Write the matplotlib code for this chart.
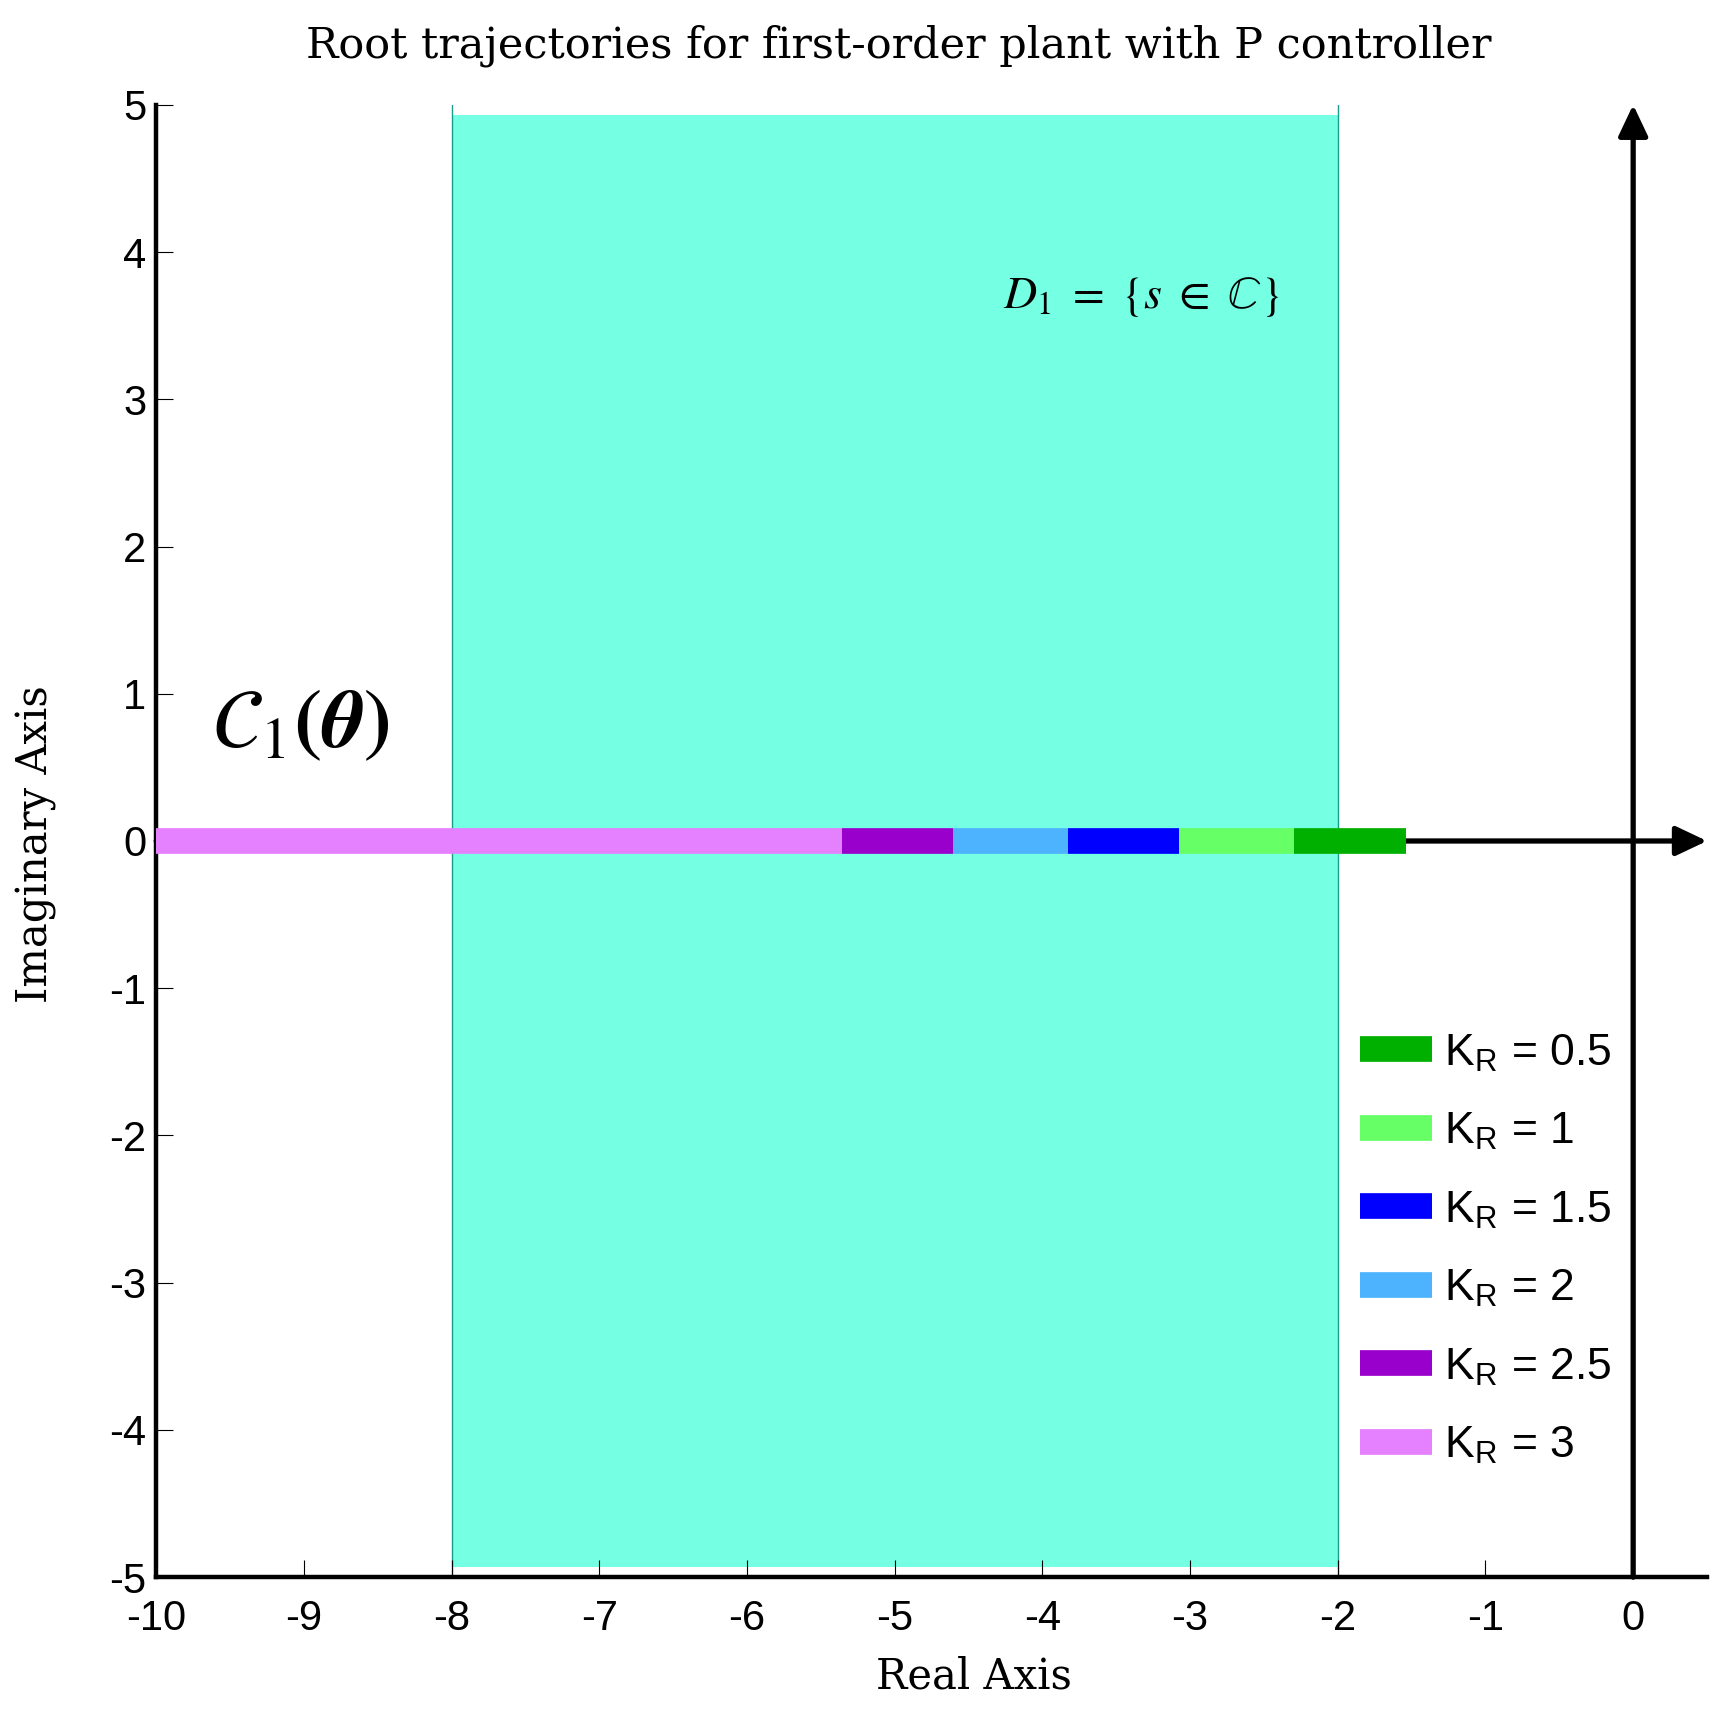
import matplotlib
matplotlib.use('Agg')
from matplotlib import pyplot as plt


# root trajectory segments (real part), one per proportional gain
gains = [0.5, 1, 1.5, 2, 2.5, 3]
seg_start = [-1.54, -2.295, -3.075, -3.825, -4.605, -5.36]
seg_end = [-2.295, -3.075, -3.825, -4.605, -5.36, -10.0]
colors = ['#00b000', '#66ff66', '#0000ff', '#4db3ff', '#9900cc', '#e580ff']

# D1 region
region_x = [-8, -2]
region_y = [-4.93, 4.93]

xticks = list(range(-10, 1))
yticks = list(range(-5, 6))

plt.rcParams['mathtext.fontset'] = 'stix'
plt.rcParams['axes.unicode_minus'] = False

fig = plt.figure(figsize=(17.26, 17.29), dpi=100)
ax = fig.add_axes([0.0905, 0.0878, 0.8985, 0.8516])

ax.fill_between(region_x, region_y[0], region_y[1], color='#75ffe3', linewidth=0, zorder=1)
for xv in region_x:
    ax.plot([xv, xv], [-5, 5], color='#1a9c8a', linewidth=1, zorder=1.5)

# real and imaginary axes with arrows
arrow = dict(arrowstyle='-|>,head_length=0.95,head_width=0.45',
             lw=3.8, color='black', shrinkA=0, shrinkB=0, mutation_scale=20)
ax.annotate('', xy=(0.5, 0), xytext=(-10, 0), arrowprops=arrow, zorder=2)
ax.annotate('', xy=(0, 5), xytext=(0, -5), arrowprops=arrow, zorder=2)

for k, a, b, c in zip(gains, seg_start, seg_end, colors):
    ax.plot([a, b], [0, 0], color=c, linewidth=18.5, solid_capstyle='butt',
            label=r'K$_\mathregular{R}$ = ' + str(k), zorder=3)

ax.text(-4.27, 3.7, r'$D_1\ =\ \{s\ \in\ \mathbb{C}\}$', fontsize=33, va='center', ha='left')
ax.text(-9.62, 0.8, r'$\boldsymbol{\mathcal{C}_1(\theta)}$', fontsize=60, va='center', ha='left')

ax.set_xlim(-10, 0.5)
ax.set_ylim(-5, 5)
ax.set_xticks(xticks)
ax.set_yticks(yticks)
ax.spines['top'].set_visible(False)
ax.spines['right'].set_visible(False)
for s in ['left', 'bottom']:
    ax.spines[s].set_linewidth(3.2)
ax.tick_params(direction='in', length=12, width=0.8, labelsize=30, pad=7)
ax.tick_params(axis='x', pad=16)
for lab in ax.get_xticklabels() + ax.get_yticklabels():
    lab.set_family('Liberation Sans')

ax.set_xlabel('Real Axis', family='DejaVu Serif', fontsize=30)
ax.xaxis.set_label_coords(0.527, -0.053)
ax.set_ylabel('Imaginary Axis', family='DejaVu Serif', fontsize=30)
ax.yaxis.set_label_coords(-0.064, 0.498)
fig.suptitle('Root trajectories for first-order plant with P controller',
             family='DejaVu Serif', fontsize=31, x=0.521, y=0.986)

ax.legend(loc='upper left', bbox_to_anchor=(-2.0, -1.15), bbox_transform=ax.transData,
          frameon=False, borderpad=0, handlelength=1.63, handletextpad=0.25,
          labelspacing=0.845, prop={'family': 'Liberation Sans', 'size': 32})

fig.savefig('out.png', dpi=100)
